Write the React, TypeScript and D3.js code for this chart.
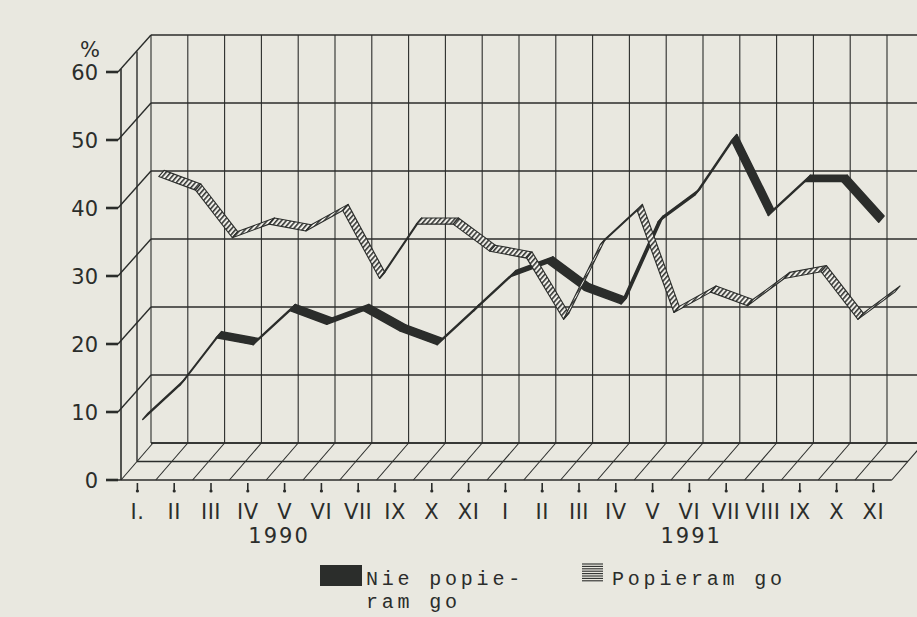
import React, { useEffect, useRef } from "react";
import * as d3 from "d3";

const W = 917;
const H = 617;
const INK = "#2b2d2b";
const PAPER = "#e9e8e0";

// months shown on the axis (1990 has no VIII)
const months = ["I.", "II", "III", "IV", "V", "VI", "VII", "IX", "X", "XI",
  "I", "II", "III", "IV", "V", "VI", "VII", "VIII", "IX", "X", "XI"];
const years = ["1990", "1991"];
const yTicks = [0, 10, 20, 30, 40, 50, 60];

// % of answers
const nieSeries = [8, 13, 20, 19, 24, 22, 24, 21, 19, 24, 29, 31, 27, 25, 37, 41, 49, 38, 43, 43, 37];
const popSeries = [41, 39, 32, 34, 33, 36, 26, 34, 34, 30, 29, 20, 31, 36, 21, 24, 22, 26, 27, 20, 24];

const Chart = () => {
  const ref = useRef(null);

  useEffect(() => {
    const svg = d3.select(ref.current);
    svg.selectAll("*").remove();

    const x = d3.scaleBand().domain(d3.range(months.length)).range([119, 119 + 36.8 * months.length]);
    const y = d3.scaleLinear().domain([0, 60]).range([480, 72]);
    const dx = 32, dy = -37; // depth of the box
    const x0 = 121; // front left edge
    const xEnd = x.range()[1];
    const cx = i => x(i) + x.bandwidth() / 2;

    svg.append("rect").attr("width", W).attr("height", H).attr("fill", PAPER);

    const defs = svg.append("defs");
    const hatch = defs.append("pattern")
      .attr("id", "hatch")
      .attr("patternUnits", "userSpaceOnUse")
      .attr("width", 3.6)
      .attr("height", 3.6)
      .attr("patternTransform", "rotate(41)");
    hatch.append("rect").attr("width", 3.6).attr("height", 3.6).attr("fill", "#f1f0ea");
    hatch.append("line").attr("x1", 0.8).attr("y1", 0).attr("x2", 0.8).attr("y2", 3.6)
      .attr("stroke", INK).attr("stroke-width", 1.5);

    const grid = svg.append("g").attr("stroke", INK).attr("fill", "none");

    // back wall horizontals + diagonals to the front axis
    yTicks.forEach(v => {
      grid.append("line").attr("x1", x(0) + dx).attr("x2", W + 5)
        .attr("y1", y(v) + dy).attr("y2", y(v) + dy).attr("stroke-width", 1.4);
      if (v > 0) {
        grid.append("line").attr("x1", x0 - 3).attr("y1", y(v))
          .attr("x2", x(0) + dx).attr("y2", y(v) + dy).attr("stroke-width", 1.4);
      }
      grid.append("line").attr("x1", 106).attr("x2", x0 - 3)
        .attr("y1", y(v)).attr("y2", y(v)).attr("stroke-width", 2.6);
    });

    // back wall verticals
    d3.range(months.length + 1).forEach(k => {
      grid.append("line").attr("x1", x(0) + k * x.step() + dx).attr("x2", x(0) + k * x.step() + dx)
        .attr("y1", y(0) + dy).attr("y2", y(60) + dy).attr("stroke-width", 1.1);
    });

    // left edges
    grid.append("line").attr("x1", x0).attr("x2", x0).attr("y1", y(60) - 3).attr("y2", y(0))
      .attr("stroke-width", 1.6);
    grid.append("line").attr("x1", x0 + dx / 2).attr("x2", x0 + dx / 2)
      .attr("y1", y(60) + dy / 2 - 2).attr("y2", y(0) + dy / 2).attr("stroke-width", 1.4);

    // floor
    grid.append("line").attr("x1", 108).attr("x2", xEnd).attr("y1", y(0)).attr("y2", y(0))
      .attr("stroke-width", 1.6);
    grid.append("line").attr("x1", x0 + dx / 2).attr("x2", xEnd + dx / 2)
      .attr("y1", y(0) + dy / 2).attr("y2", y(0) + dy / 2).attr("stroke-width", 1.4);
    grid.append("line").attr("x1", x(0) + dx).attr("x2", W + 5)
      .attr("y1", y(0) + dy).attr("y2", y(0) + dy).attr("stroke-width", 1.4);
    d3.range(months.length + 1).forEach(k => {
      const fx = k === 0 ? x0 : x(0) + k * x.step();
      grid.append("line").attr("x1", fx).attr("y1", y(0))
        .attr("x2", fx + dx).attr("y2", y(0) + dy).attr("stroke-width", 1.1);
    });

    // ribbons
    const line = d3.line();
    const ribbon = (values, z1, z2, fill, sw) => {
      const g = svg.append("g");
      const ox = dx * z1, oy = dy * z1;
      const tx = dx * (z2 - z1), ty = dy * (z2 - z1);
      d3.pairs(values.map((v, i) => [cx(i) + ox, y(v) + oy])).forEach(([a, b]) => {
        g.append("path")
          .attr("d", line([a, b, [b[0] + tx, b[1] + ty], [a[0] + tx, a[1] + ty]]) + "Z")
          .attr("fill", fill)
          .attr("stroke", INK)
          .attr("stroke-width", sw)
          .attr("stroke-linejoin", "round");
      });
    };
    ribbon(nieSeries, 1 / 6, 1 / 3, INK, 1.5);
    ribbon(popSeries, 2 / 3, 5 / 6, "url(#hatch)", 1.1);

    // axis ticks and labels
    const axis = svg.append("g").attr("fill", INK);
    months.forEach((m, i) => {
      axis.append("line").attr("x1", cx(i)).attr("x2", cx(i)).attr("y1", 483).attr("y2", 492)
        .attr("stroke", INK).attr("stroke-width", 1.6);
      axis.append("circle").attr("cx", cx(i)).attr("cy", 491).attr("r", 1.6);
      axis.append("text").attr("x", cx(i)).attr("y", 519)
        .attr("text-anchor", "middle")
        .style("font-family", "DejaVu Sans")
        .style("font-size", "21px")
        .style("letter-spacing", "0.5px")
        .text(m);
    });
    const yearAt = [4.35, 15.55];
    years.forEach((t, i) => {
      axis.append("text").attr("x", x(0) + yearAt[i] * x.step()).attr("y", 543)
        .attr("text-anchor", "middle")
        .style("font-family", "DejaVu Sans")
        .style("font-size", "21px")
        .style("letter-spacing", "2px")
        .text(t);
    });
    yTicks.forEach(v => {
      axis.append("text").attr("x", 98).attr("y", y(v) + 8)
        .attr("text-anchor", "end")
        .style("font-family", "DejaVu Sans")
        .style("font-size", "21px")
        .text(v);
    });
    axis.append("text").attr("x", 90).attr("y", 57).attr("text-anchor", "middle")
      .style("font-family", "DejaVu Sans").style("font-size", "21px").text("%");

    // legend
    const leg = svg.append("g").attr("fill", INK)
      .style("font-family", "Liberation Mono")
      .style("font-size", "20px")
      .style("letter-spacing", "3.8px");
    leg.append("rect").attr("x", 320).attr("y", 565).attr("width", 42).attr("height", 21);
    leg.append("text").attr("x", 366).attr("y", 585).text("Nie popie-");
    leg.append("text").attr("x", 366).attr("y", 608).text("ram go");
    d3.range(8).forEach(j => {
      leg.append("line").attr("x1", 582).attr("x2", 603)
        .attr("y1", 564 + j * 2.4).attr("y2", 564 + j * 2.4)
        .attr("stroke", INK).attr("stroke-width", 1.1);
    });
    leg.append("text").attr("x", 612).attr("y", 585).text("Popieram go");
  }, []);

  return (
    <svg ref={ref} width={W} height={H}
      style={{ position: "absolute", left: 0, top: 0, display: "block" }} />
  );
};

export default function App() {
  return <Chart />;
}
